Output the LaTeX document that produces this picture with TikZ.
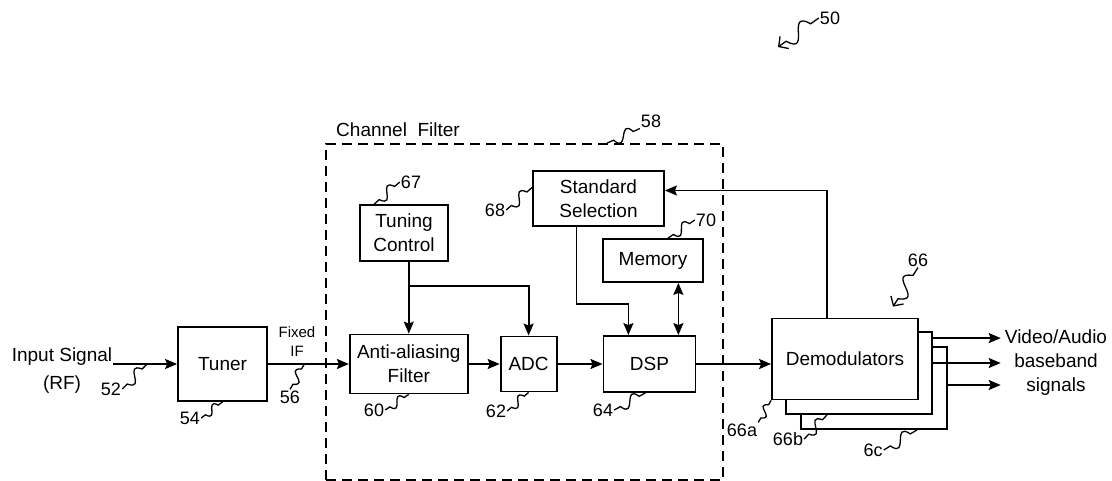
\documentclass[tikz,border=0pt]{standalone}
\usepackage{fontspec}
\setmainfont{Liberation Sans}
\usetikzlibrary{arrows.meta,positioning,calc}

\newcommand{\blkfont}{\fontsize{19}{24}\selectfont}
\newcommand{\numfont}{\fontsize{18}{21}\selectfont}
\newcommand{\fixfont}{\fontsize{15}{19}\selectfont}

\begin{document}
\begin{tikzpicture}[
  x=1pt, y=-1pt,
  line/.style={-{Stealth[length=12pt,width=10pt,inset=2pt]}, line width=1.8pt},
  dline/.style={{Stealth[length=12pt,width=10pt,inset=2pt]}-{Stealth[length=12pt,width=10pt,inset=2pt]}, line width=1.8pt},
  block/.style={draw, line width=1.8pt, fill=white, align=center, font=\blkfont, inner sep=2pt},
  txt/.style={font=\blkfont, align=center, inner sep=1pt},
  lab/.style={font=\numfont, inner sep=1pt},
  lead/.style={line width=1.3pt, to path={-- ($(\tikztostart)!0.2!(\tikztotarget)$)
      .. controls ($(\tikztostart)!0.7!-50:(\tikztotarget)$) and ($(\tikztotarget)!0.7!-50:(\tikztostart)$)
      .. ($(\tikztostart)!0.8!(\tikztotarget)$) -- (\tikztotarget) \tikztonodes}},
  leadarrow/.style={lead, -{Straight Barb[length=7pt,width=15pt]}},
  chanbox/.style={draw, dash pattern=on 10pt off 6pt, line width=1.8pt}
]
\useasboundingbox (0,0) rectangle (1112,481);

% ---------------------------------------------------------------------------
% Channel filter frame
% ---------------------------------------------------------------------------
\node[chanbox, minimum width=397pt, minimum height=336pt] (chfilt) at (524.5,312) {};
\node[txt] (chlab) at (398,130) {Channel\ \ Filter};

% ---------------------------------------------------------------------------
% Main signal chain
% ---------------------------------------------------------------------------
\node[txt] (input) at (62,371) {Input Signal\\[4pt](RF)};
\node[block, minimum width=89pt, minimum height=74pt] (tuner) at (222.5,364) {Tuner};
\node[block, right=81pt of tuner, minimum width=118pt, minimum height=59pt] (aaf) {Anti-aliasing\\Filter};
\node[block, right=31pt of aaf, minimum width=56pt, minimum height=55pt] (adc) {ADC};
\node[block, right=45pt of adc, minimum width=92pt, minimum height=56pt] (dsp) {DSP};
\node[font=\fixfont, align=center, inner sep=1pt] (fixif) at (297,342) {Fixed\\IF};

% control blocks inside the filter
\node[block, minimum width=88pt, minimum height=56pt] (tuning) at (404,233) {Tuning\\Control};
\node[block, minimum width=131pt, minimum height=55pt] (stdsel) at (598.5,198.5) {Standard\\Selection};
\node[block, minimum width=100pt, minimum height=43pt] (memory) at (653,260.5) {Memory};

% stacked demodulators (back to front)
\node[block, minimum width=146pt, minimum height=82pt] (demodc) at (874,388) {};
\node[block, minimum width=146pt, minimum height=82pt] (demodb) at (859,373) {};
\node[block, minimum width=146pt, minimum height=81pt] (demoda) at (845,359) {Demodulators};
\node[txt, inner sep=4pt] (vout) at (1056,363) {Video/Audio\\baseband\\signals};

% ---------------------------------------------------------------------------
% Reference numerals
% ---------------------------------------------------------------------------
\node[lab] (lab50) at (830,18) {50};
\node[lab] (lab52) at (111,389) {52};
\node[lab] (lab54) at (190,418) {54};
\node[lab] (lab56) at (290,397) {56};
\node[lab] (lab58) at (651,121) {58};
\node[lab] (lab60) at (374,410) {60};
\node[lab] (lab62) at (496,411) {62};
\node[lab] (lab64) at (603,410) {64};
\node[lab] (lab66) at (918,260) {66};
\node[lab] (lab66a) at (742,430) {66a};
\node[lab] (lab66b) at (788,439) {66b};
\node[lab] (lab6c) at (873,450) {6c};
\node[lab] (lab67) at (411,182) {67};
\node[lab] (lab68) at (495,210) {68};
\node[lab] (lab70) at (706,220) {70};

% ---------------------------------------------------------------------------
% Signal arrows
% ---------------------------------------------------------------------------
\draw[line] (input.east |- tuner.west) -- (tuner.west);
\draw[line] (tuner.east |- aaf.west) -- (aaf.west);
\draw[line] (aaf) -- (adc);
\draw[line] (adc) -- (dsp);
\draw[line] (dsp.east) -- (dsp.east -| demoda.west);

% tuning control feeds filter and ADC
\draw[line] (aaf.north |- tuning.south) -- (aaf.north);
\coordinate (tcjoin) at ($(aaf.north |- tuning.south)+(0,24)$);
\draw[line] (tcjoin) -| (adc.north);

% standard selection to DSP, memory <-> DSP
\coordinate (ssdrop) at ($(stdsel.south)+(-22,0)$);
\coordinate (dspin) at ($(dsp.north)+(-21,0)$);
\draw[line] (ssdrop) |- ($(dspin)+(0,-31)$) -- (dspin);
\coordinate (dspmem) at ($(dsp.north)+(29,0)$);
\draw[dline] (dspmem |- memory.south) -- (dspmem);

% feedback from demodulators
\coordinate (fbup) at ($(demoda.north)+(-18,0)$);
\draw[line] (fbup) |- ($(stdsel.east)+(0,-8)$);

% baseband outputs
\coordinate (outa) at ($(demodb.north east)+(0,7)$);
\coordinate (outb) at ($(demodb.east)+(0,-10)$);
\coordinate (outc) at ($(demodc.east)+(0,-3)$);
\draw[line] (outa) -- (outa -| vout.west);
\draw[line] (outb) -- (outb -| vout.west);
\draw[line] (outc) -- (outc -| vout.west);

% ---------------------------------------------------------------------------
% Lead lines
% ---------------------------------------------------------------------------
\coordinate (sys) at (778,47);
\coordinate (in52) at ($(input.east |- aaf.west)!0.53!(tuner.west |- aaf.west)$);
\coordinate (if56) at ($(tuner.east |- aaf.west)!0.45!(aaf.west)$);
\coordinate (demods) at ($(demoda.north)+(48,-11)$);
\draw[leadarrow] (lab50.west) to (sys);
\draw[lead] (lab52.east) to (in52);
\draw[lead] (lab54.east) to (tuner.south);
\draw[lead] (lab56.north) to (if56);
\draw[lead] (lab58.south west) to ($(chfilt.north west)+(282,0)$);
\draw[lead] (lab60.east) to (aaf.south);
\draw[lead] (lab62.east) to (adc.south);
\draw[lead] (lab64.east) to ($(dsp.south)+(-4,0)$);
\draw[leadarrow] (lab66.south) to (demods);
\draw[lead] (lab66a.north east) to (demoda.south west);
\draw[lead] (lab66b.east) to ($(demodb.south west)+(42,0)$);
\draw[lead] (lab6c.east) to ($(demodc.south)+(43,0)$);
\draw[lead] (lab67.west) to ($(tuning.north west)+(15,0)$);
\draw[lead] (lab68.east) to ($(stdsel.west)+(0,-11)$);
\draw[lead] (lab70.west) to ($(memory.north)+(15,0)$);

\end{tikzpicture}
\end{document}
